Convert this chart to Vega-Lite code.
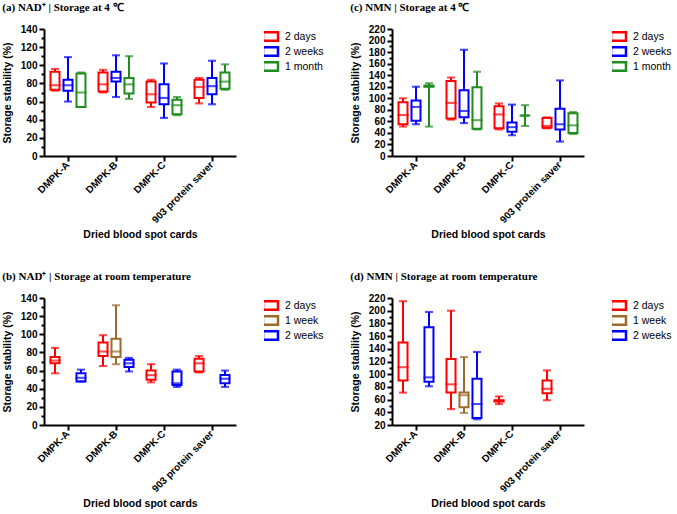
{
  "$schema": "https://vega.github.io/schema/vega-lite/v6.json",
  "padding": {"left": 2, "top": 2, "right": 0, "bottom": 2},
  "background": "white",
  "config": {
    "view": {"stroke": null},
    "axis": {"domainColor": "black", "domainWidth": 2, "tickColor": "black", "tickWidth": 2, "labelColor": "black", "labelFont": "Liberation Sans", "labelFontWeight": "bold", "labelFontSize": 10, "labelOverlap": false, "titleFont": "Liberation Sans", "titleFontWeight": "bold", "titleFontSize": 10.5, "titleColor": "black", "grid": false},
    "legend": {"labelFont": "Liberation Sans", "labelFontSize": 10.5, "labelColor": "black", "offset": 28, "rowPadding": 0, "clipHeight": 15, "labelOffset": 8, "symbolStrokeWidth": 2.5, "symbolSize": 100, "symbolType": "M-1.5,-0.85H1.5V0.85H-1.5Z"},
    "title": {"font": "Liberation Serif", "fontWeight": "bold", "fontSize": 11, "color": "black", "anchor": "start", "frame": "bounds", "offset": 11}
  },
  "datasets": {
    "a": [
      {"card": "DMPK-A", "period": "2 days", "min": 72, "q1": 73, "median": 78, "q3": 93, "max": 96},
      {"card": "DMPK-A", "period": "2 weeks", "min": 60, "q1": 72, "median": 78, "q3": 84, "max": 109},
      {"card": "DMPK-A", "period": "1 month", "min": 54, "q1": 54, "median": 70, "q3": 91, "max": 92},
      {"card": "DMPK-B", "period": "2 days", "min": 70, "q1": 71, "median": 79, "q3": 92, "max": 95},
      {"card": "DMPK-B", "period": "2 weeks", "min": 65, "q1": 82, "median": 86, "q3": 93, "max": 111},
      {"card": "DMPK-B", "period": "1 month", "min": 63, "q1": 69, "median": 79, "q3": 86, "max": 110},
      {"card": "DMPK-C", "period": "2 days", "min": 54, "q1": 59, "median": 68, "q3": 82, "max": 84},
      {"card": "DMPK-C", "period": "2 weeks", "min": 42, "q1": 57, "median": 64, "q3": 79, "max": 102},
      {"card": "DMPK-C", "period": "1 month", "min": 45, "q1": 46, "median": 56, "q3": 62, "max": 65},
      {"card": "903 protein saver", "period": "2 days", "min": 58, "q1": 64, "median": 76, "q3": 84, "max": 86},
      {"card": "903 protein saver", "period": "2 weeks", "min": 57, "q1": 68, "median": 77, "q3": 86, "max": 105},
      {"card": "903 protein saver", "period": "1 month", "min": 73, "q1": 74, "median": 82, "q3": 92, "max": 101}
    ],
    "b": [
      {"card": "DMPK-A", "period": "2 days", "min": 57, "q1": 68, "median": 71, "q3": 75, "max": 85},
      {"card": "DMPK-A", "period": "2 weeks", "min": 48, "q1": 48, "median": 52, "q3": 57, "max": 61},
      {"card": "DMPK-B", "period": "2 days", "min": 65, "q1": 76, "median": 81, "q3": 91, "max": 99},
      {"card": "DMPK-B", "period": "1 week", "min": 67, "q1": 75, "median": 81, "q3": 95, "max": 132},
      {"card": "DMPK-B", "period": "2 weeks", "min": 59, "q1": 64, "median": 68, "q3": 72, "max": 74},
      {"card": "DMPK-C", "period": "2 days", "min": 47, "q1": 50, "median": 55, "q3": 60, "max": 67},
      {"card": "DMPK-C", "period": "2 weeks", "min": 42, "q1": 44, "median": 46, "q3": 59, "max": 61},
      {"card": "903 protein saver", "period": "2 days", "min": 58, "q1": 59, "median": 68, "q3": 73, "max": 76},
      {"card": "903 protein saver", "period": "2 weeks", "min": 42, "q1": 46, "median": 51, "q3": 55, "max": 60}
    ],
    "c": [
      {"card": "DMPK-A", "period": "2 days", "min": 51, "q1": 55, "median": 71, "q3": 93, "max": 100},
      {"card": "DMPK-A", "period": "2 weeks", "min": 55, "q1": 61, "median": 85, "q3": 96, "max": 120},
      {"card": "DMPK-A", "period": "1 month", "min": 51, "q1": 120, "median": 121, "q3": 122, "max": 126},
      {"card": "DMPK-B", "period": "2 days", "min": 63, "q1": 65, "median": 92, "q3": 130, "max": 136},
      {"card": "DMPK-B", "period": "2 weeks", "min": 57, "q1": 67, "median": 78, "q3": 114, "max": 184},
      {"card": "DMPK-B", "period": "1 month", "min": 46, "q1": 47, "median": 62, "q3": 119, "max": 146},
      {"card": "DMPK-C", "period": "2 days", "min": 46, "q1": 48, "median": 72, "q3": 86, "max": 91},
      {"card": "DMPK-C", "period": "2 weeks", "min": 36, "q1": 42, "median": 50, "q3": 58, "max": 89},
      {"card": "DMPK-C", "period": "1 month", "min": 52, "q1": 70, "median": 70, "q3": 70, "max": 88},
      {"card": "903 protein saver", "period": "2 days", "min": 48, "q1": 49, "median": 52, "q3": 66, "max": 67},
      {"card": "903 protein saver", "period": "2 weeks", "min": 25, "q1": 46, "median": 55, "q3": 82, "max": 131},
      {"card": "903 protein saver", "period": "1 month", "min": 38, "q1": 40, "median": 53, "q3": 74, "max": 76}
    ],
    "d": [
      {"card": "DMPK-A", "period": "2 days", "min": 71, "q1": 90, "median": 111, "q3": 150, "max": 215},
      {"card": "DMPK-A", "period": "2 weeks", "min": 81, "q1": 88, "median": 95, "q3": 174, "max": 198},
      {"card": "DMPK-B", "period": "2 days", "min": 45, "q1": 71, "median": 84, "q3": 124, "max": 200},
      {"card": "DMPK-B", "period": "1 week", "min": 39, "q1": 48, "median": 67, "q3": 71, "max": 127},
      {"card": "DMPK-B", "period": "2 weeks", "min": 29, "q1": 31, "median": 53, "q3": 93, "max": 135},
      {"card": "DMPK-C", "period": "2 days", "min": 53, "q1": 57, "median": 58, "q3": 59, "max": 65},
      {"card": "903 protein saver", "period": "2 days", "min": 59, "q1": 70, "median": 77, "q3": 90, "max": 106}
    ]
  },
  "columns": 2,
  "spacing": {"column": 26, "row": 30},
  "resolve": {"scale": {"color": "independent", "y": "independent", "x": "independent", "xOffset": "independent"}, "legend": {"color": "independent"}},
  "concat": [
    {
      "title": "(a) NAD⁺ | Storage at 4 ℃",
      "data": {"name": "a"},
      "width": 192, "height": 127,
      "encoding": {
        "x": {"field": "card", "type": "nominal", "sort": ["DMPK-A", "DMPK-B", "DMPK-C", "903 protein saver"], "scale": {"paddingInner": 0, "paddingOuter": 0}, "title": "Dried blood spot cards", "axis": {"labelAngle": -45, "labelBaseline": "middle", "labelPadding": 2, "tickSize": 5, "titlePadding": 5}},
        "xOffset": {"field": "period", "type": "nominal", "scale": {"domain": ["2 days", "2 weeks", "1 month"], "paddingInner": 0, "paddingOuter": 0.35}},
        "color": {"field": "period", "type": "nominal", "scale": {"domain": ["2 days", "2 weeks", "1 month"], "range": ["#ff0000", "#0000ff", "#1e8c1e"]}, "title": null}
      },
      "layer": [
        {"mark": {"type": "rule", "strokeWidth": 2}, "encoding": {"y": {"field": "min", "type": "quantitative", "scale": {"domain": [0, 140], "nice": false}, "title": "Storage stability (%)", "axis": {"values": [0,10,20,30,40,50,60,70,80,90,100,110,120,130,140], "labelOverlap": false, "labelExpr": "datum.value % 20 === 0 ? datum.label : ''", "tickSize": {"condition": {"test": "datum.value % 20 === 0", "value": 5}, "value": 3}, "titlePadding": 8}}, "y2": {"field": "q1"}}},
        {"mark": {"type": "rule", "strokeWidth": 2}, "encoding": {"y": {"field": "q3", "type": "quantitative", "title": "Storage stability (%)", "axis": {"values": [0,10,20,30,40,50,60,70,80,90,100,110,120,130,140], "labelOverlap": false, "labelExpr": "datum.value % 20 === 0 ? datum.label : ''", "tickSize": {"condition": {"test": "datum.value % 20 === 0", "value": 5}, "value": 3}, "titlePadding": 8}}, "y2": {"field": "max"}}},
        {"mark": {"type": "bar", "filled": false, "strokeWidth": 2, "size": 9}, "encoding": {"y": {"field": "q1", "type": "quantitative", "title": "Storage stability (%)", "axis": {"values": [0,10,20,30,40,50,60,70,80,90,100,110,120,130,140], "labelOverlap": false, "labelExpr": "datum.value % 20 === 0 ? datum.label : ''", "tickSize": {"condition": {"test": "datum.value % 20 === 0", "value": 5}, "value": 3}, "titlePadding": 8}}, "y2": {"field": "q3"}}},
        {"mark": {"type": "tick", "filled": false, "thickness": 0.1, "strokeWidth": 2, "size": 9}, "encoding": {"y": {"field": "median", "type": "quantitative", "title": "Storage stability (%)", "axis": {"values": [0,10,20,30,40,50,60,70,80,90,100,110,120,130,140], "labelOverlap": false, "labelExpr": "datum.value % 20 === 0 ? datum.label : ''", "tickSize": {"condition": {"test": "datum.value % 20 === 0", "value": 5}, "value": 3}, "titlePadding": 8}}}},
        {"mark": {"type": "tick", "filled": false, "thickness": 0.1, "strokeWidth": 2, "size": 6}, "encoding": {"y": {"field": "min", "type": "quantitative", "title": "Storage stability (%)", "axis": {"values": [0,10,20,30,40,50,60,70,80,90,100,110,120,130,140], "labelOverlap": false, "labelExpr": "datum.value % 20 === 0 ? datum.label : ''", "tickSize": {"condition": {"test": "datum.value % 20 === 0", "value": 5}, "value": 3}, "titlePadding": 8}}}},
        {"mark": {"type": "tick", "filled": false, "thickness": 0.1, "strokeWidth": 2, "size": 6}, "encoding": {"y": {"field": "max", "type": "quantitative", "title": "Storage stability (%)", "axis": {"values": [0,10,20,30,40,50,60,70,80,90,100,110,120,130,140], "labelOverlap": false, "labelExpr": "datum.value % 20 === 0 ? datum.label : ''", "tickSize": {"condition": {"test": "datum.value % 20 === 0", "value": 5}, "value": 3}, "titlePadding": 8}}}}
      ]
    },
    {
      "title": "(c) NMN | Storage at 4 ℃",
      "data": {"name": "c"},
      "width": 192, "height": 127,
      "encoding": {
        "x": {"field": "card", "type": "nominal", "sort": ["DMPK-A", "DMPK-B", "DMPK-C", "903 protein saver"], "scale": {"paddingInner": 0, "paddingOuter": 0}, "title": "Dried blood spot cards", "axis": {"labelAngle": -45, "labelBaseline": "middle", "labelPadding": 2, "tickSize": 5, "titlePadding": 5}},
        "xOffset": {"field": "period", "type": "nominal", "scale": {"domain": ["2 days", "2 weeks", "1 month"], "paddingInner": 0, "paddingOuter": 0.35}},
        "color": {"field": "period", "type": "nominal", "scale": {"domain": ["2 days", "2 weeks", "1 month"], "range": ["#ff0000", "#0000ff", "#1e8c1e"]}, "title": null}
      },
      "layer": [
        {"mark": {"type": "rule", "strokeWidth": 2}, "encoding": {"y": {"field": "min", "type": "quantitative", "scale": {"domain": [0, 220], "nice": false}, "title": "Storage stability (%)", "axis": {"values": [0,10,20,30,40,50,60,70,80,90,100,110,120,130,140,150,160,170,180,190,200,210,220], "labelOverlap": false, "labelExpr": "datum.value % 20 === 0 ? datum.label : ''", "tickSize": {"condition": {"test": "datum.value % 20 === 0", "value": 5}, "value": 3}, "titlePadding": 8}}, "y2": {"field": "q1"}}},
        {"mark": {"type": "rule", "strokeWidth": 2}, "encoding": {"y": {"field": "q3", "type": "quantitative", "title": "Storage stability (%)", "axis": {"values": [0,10,20,30,40,50,60,70,80,90,100,110,120,130,140,150,160,170,180,190,200,210,220], "labelOverlap": false, "labelExpr": "datum.value % 20 === 0 ? datum.label : ''", "tickSize": {"condition": {"test": "datum.value % 20 === 0", "value": 5}, "value": 3}, "titlePadding": 8}}, "y2": {"field": "max"}}},
        {"mark": {"type": "bar", "filled": false, "strokeWidth": 2, "size": 9}, "encoding": {"y": {"field": "q1", "type": "quantitative", "title": "Storage stability (%)", "axis": {"values": [0,10,20,30,40,50,60,70,80,90,100,110,120,130,140,150,160,170,180,190,200,210,220], "labelOverlap": false, "labelExpr": "datum.value % 20 === 0 ? datum.label : ''", "tickSize": {"condition": {"test": "datum.value % 20 === 0", "value": 5}, "value": 3}, "titlePadding": 8}}, "y2": {"field": "q3"}}},
        {"mark": {"type": "tick", "filled": false, "thickness": 0.1, "strokeWidth": 2, "size": 9}, "encoding": {"y": {"field": "median", "type": "quantitative", "title": "Storage stability (%)", "axis": {"values": [0,10,20,30,40,50,60,70,80,90,100,110,120,130,140,150,160,170,180,190,200,210,220], "labelOverlap": false, "labelExpr": "datum.value % 20 === 0 ? datum.label : ''", "tickSize": {"condition": {"test": "datum.value % 20 === 0", "value": 5}, "value": 3}, "titlePadding": 8}}}},
        {"mark": {"type": "tick", "filled": false, "thickness": 0.1, "strokeWidth": 2, "size": 6}, "encoding": {"y": {"field": "min", "type": "quantitative", "title": "Storage stability (%)", "axis": {"values": [0,10,20,30,40,50,60,70,80,90,100,110,120,130,140,150,160,170,180,190,200,210,220], "labelOverlap": false, "labelExpr": "datum.value % 20 === 0 ? datum.label : ''", "tickSize": {"condition": {"test": "datum.value % 20 === 0", "value": 5}, "value": 3}, "titlePadding": 8}}}},
        {"mark": {"type": "tick", "filled": false, "thickness": 0.1, "strokeWidth": 2, "size": 6}, "encoding": {"y": {"field": "max", "type": "quantitative", "title": "Storage stability (%)", "axis": {"values": [0,10,20,30,40,50,60,70,80,90,100,110,120,130,140,150,160,170,180,190,200,210,220], "labelOverlap": false, "labelExpr": "datum.value % 20 === 0 ? datum.label : ''", "tickSize": {"condition": {"test": "datum.value % 20 === 0", "value": 5}, "value": 3}, "titlePadding": 8}}}}
      ]
    },
    {
      "title": "(b) NAD⁺ | Storage at room temperature",
      "data": {"name": "b"},
      "width": 192, "height": 127,
      "encoding": {
        "x": {"field": "card", "type": "nominal", "sort": ["DMPK-A", "DMPK-B", "DMPK-C", "903 protein saver"], "scale": {"domain": ["DMPK-A", "DMPK-B", "DMPK-C", "903 protein saver"], "paddingInner": 0, "paddingOuter": 0}, "title": "Dried blood spot cards", "axis": {"labelAngle": -45, "labelBaseline": "middle", "labelPadding": 2, "tickSize": 5, "titlePadding": 5}},
        "xOffset": {"field": "period", "type": "nominal", "scale": {"domain": ["2 days", "1 week", "2 weeks"], "paddingInner": 0, "paddingOuter": 0.35}},
        "color": {"field": "period", "type": "nominal", "scale": {"domain": ["2 days", "1 week", "2 weeks"], "range": ["#ff0000", "#9c6b2c", "#0000ff"]}, "title": null}
      },
      "layer": [
        {"mark": {"type": "rule", "strokeWidth": 2}, "encoding": {"y": {"field": "min", "type": "quantitative", "scale": {"domain": [0, 140], "nice": false}, "title": "Storage stability (%)", "axis": {"values": [0,10,20,30,40,50,60,70,80,90,100,110,120,130,140], "labelOverlap": false, "labelExpr": "datum.value % 20 === 0 ? datum.label : ''", "tickSize": {"condition": {"test": "datum.value % 20 === 0", "value": 5}, "value": 3}, "titlePadding": 8}}, "y2": {"field": "q1"}}},
        {"mark": {"type": "rule", "strokeWidth": 2}, "encoding": {"y": {"field": "q3", "type": "quantitative", "title": "Storage stability (%)", "axis": {"values": [0,10,20,30,40,50,60,70,80,90,100,110,120,130,140], "labelOverlap": false, "labelExpr": "datum.value % 20 === 0 ? datum.label : ''", "tickSize": {"condition": {"test": "datum.value % 20 === 0", "value": 5}, "value": 3}, "titlePadding": 8}}, "y2": {"field": "max"}}},
        {"mark": {"type": "bar", "filled": false, "strokeWidth": 2, "size": 9}, "encoding": {"y": {"field": "q1", "type": "quantitative", "title": "Storage stability (%)", "axis": {"values": [0,10,20,30,40,50,60,70,80,90,100,110,120,130,140], "labelOverlap": false, "labelExpr": "datum.value % 20 === 0 ? datum.label : ''", "tickSize": {"condition": {"test": "datum.value % 20 === 0", "value": 5}, "value": 3}, "titlePadding": 8}}, "y2": {"field": "q3"}}},
        {"mark": {"type": "tick", "filled": false, "thickness": 0.1, "strokeWidth": 2, "size": 9}, "encoding": {"y": {"field": "median", "type": "quantitative", "title": "Storage stability (%)", "axis": {"values": [0,10,20,30,40,50,60,70,80,90,100,110,120,130,140], "labelOverlap": false, "labelExpr": "datum.value % 20 === 0 ? datum.label : ''", "tickSize": {"condition": {"test": "datum.value % 20 === 0", "value": 5}, "value": 3}, "titlePadding": 8}}}},
        {"mark": {"type": "tick", "filled": false, "thickness": 0.1, "strokeWidth": 2, "size": 6}, "encoding": {"y": {"field": "min", "type": "quantitative", "title": "Storage stability (%)", "axis": {"values": [0,10,20,30,40,50,60,70,80,90,100,110,120,130,140], "labelOverlap": false, "labelExpr": "datum.value % 20 === 0 ? datum.label : ''", "tickSize": {"condition": {"test": "datum.value % 20 === 0", "value": 5}, "value": 3}, "titlePadding": 8}}}},
        {"mark": {"type": "tick", "filled": false, "thickness": 0.1, "strokeWidth": 2, "size": 6}, "encoding": {"y": {"field": "max", "type": "quantitative", "title": "Storage stability (%)", "axis": {"values": [0,10,20,30,40,50,60,70,80,90,100,110,120,130,140], "labelOverlap": false, "labelExpr": "datum.value % 20 === 0 ? datum.label : ''", "tickSize": {"condition": {"test": "datum.value % 20 === 0", "value": 5}, "value": 3}, "titlePadding": 8}}}}
      ]
    },
    {
      "title": "(d) NMN | Storage at room temperature",
      "data": {"name": "d"},
      "width": 192, "height": 127,
      "encoding": {
        "x": {"field": "card", "type": "nominal", "sort": ["DMPK-A", "DMPK-B", "DMPK-C", "903 protein saver"], "scale": {"domain": ["DMPK-A", "DMPK-B", "DMPK-C", "903 protein saver"], "paddingInner": 0, "paddingOuter": 0}, "title": "Dried blood spot cards", "axis": {"labelAngle": -45, "labelBaseline": "middle", "labelPadding": 2, "tickSize": 5, "titlePadding": 5}},
        "xOffset": {"field": "period", "type": "nominal", "scale": {"domain": ["2 days", "1 week", "2 weeks"], "paddingInner": 0, "paddingOuter": 0.35}},
        "color": {"field": "period", "type": "nominal", "scale": {"domain": ["2 days", "1 week", "2 weeks"], "range": ["#ff0000", "#9c6b2c", "#0000ff"]}, "title": null}
      },
      "layer": [
        {"mark": {"type": "rule", "strokeWidth": 2}, "encoding": {"y": {"field": "min", "type": "quantitative", "scale": {"domain": [20, 220], "nice": false}, "title": "Storage stability (%)", "axis": {"values": [20,30,40,50,60,70,80,90,100,110,120,130,140,150,160,170,180,190,200,210,220], "labelOverlap": false, "labelExpr": "datum.value % 20 === 0 ? datum.label : ''", "tickSize": {"condition": {"test": "datum.value % 20 === 0", "value": 5}, "value": 3}, "titlePadding": 8}}, "y2": {"field": "q1"}}},
        {"mark": {"type": "rule", "strokeWidth": 2}, "encoding": {"y": {"field": "q3", "type": "quantitative", "title": "Storage stability (%)", "axis": {"values": [20,30,40,50,60,70,80,90,100,110,120,130,140,150,160,170,180,190,200,210,220], "labelOverlap": false, "labelExpr": "datum.value % 20 === 0 ? datum.label : ''", "tickSize": {"condition": {"test": "datum.value % 20 === 0", "value": 5}, "value": 3}, "titlePadding": 8}}, "y2": {"field": "max"}}},
        {"mark": {"type": "bar", "filled": false, "strokeWidth": 2, "size": 9}, "encoding": {"y": {"field": "q1", "type": "quantitative", "title": "Storage stability (%)", "axis": {"values": [20,30,40,50,60,70,80,90,100,110,120,130,140,150,160,170,180,190,200,210,220], "labelOverlap": false, "labelExpr": "datum.value % 20 === 0 ? datum.label : ''", "tickSize": {"condition": {"test": "datum.value % 20 === 0", "value": 5}, "value": 3}, "titlePadding": 8}}, "y2": {"field": "q3"}}},
        {"mark": {"type": "tick", "filled": false, "thickness": 0.1, "strokeWidth": 2, "size": 9}, "encoding": {"y": {"field": "median", "type": "quantitative", "title": "Storage stability (%)", "axis": {"values": [20,30,40,50,60,70,80,90,100,110,120,130,140,150,160,170,180,190,200,210,220], "labelOverlap": false, "labelExpr": "datum.value % 20 === 0 ? datum.label : ''", "tickSize": {"condition": {"test": "datum.value % 20 === 0", "value": 5}, "value": 3}, "titlePadding": 8}}}},
        {"mark": {"type": "tick", "filled": false, "thickness": 0.1, "strokeWidth": 2, "size": 6}, "encoding": {"y": {"field": "min", "type": "quantitative", "title": "Storage stability (%)", "axis": {"values": [20,30,40,50,60,70,80,90,100,110,120,130,140,150,160,170,180,190,200,210,220], "labelOverlap": false, "labelExpr": "datum.value % 20 === 0 ? datum.label : ''", "tickSize": {"condition": {"test": "datum.value % 20 === 0", "value": 5}, "value": 3}, "titlePadding": 8}}}},
        {"mark": {"type": "tick", "filled": false, "thickness": 0.1, "strokeWidth": 2, "size": 6}, "encoding": {"y": {"field": "max", "type": "quantitative", "title": "Storage stability (%)", "axis": {"values": [20,30,40,50,60,70,80,90,100,110,120,130,140,150,160,170,180,190,200,210,220], "labelOverlap": false, "labelExpr": "datum.value % 20 === 0 ? datum.label : ''", "tickSize": {"condition": {"test": "datum.value % 20 === 0", "value": 5}, "value": 3}, "titlePadding": 8}}}}
      ]
    }
  ]
}
